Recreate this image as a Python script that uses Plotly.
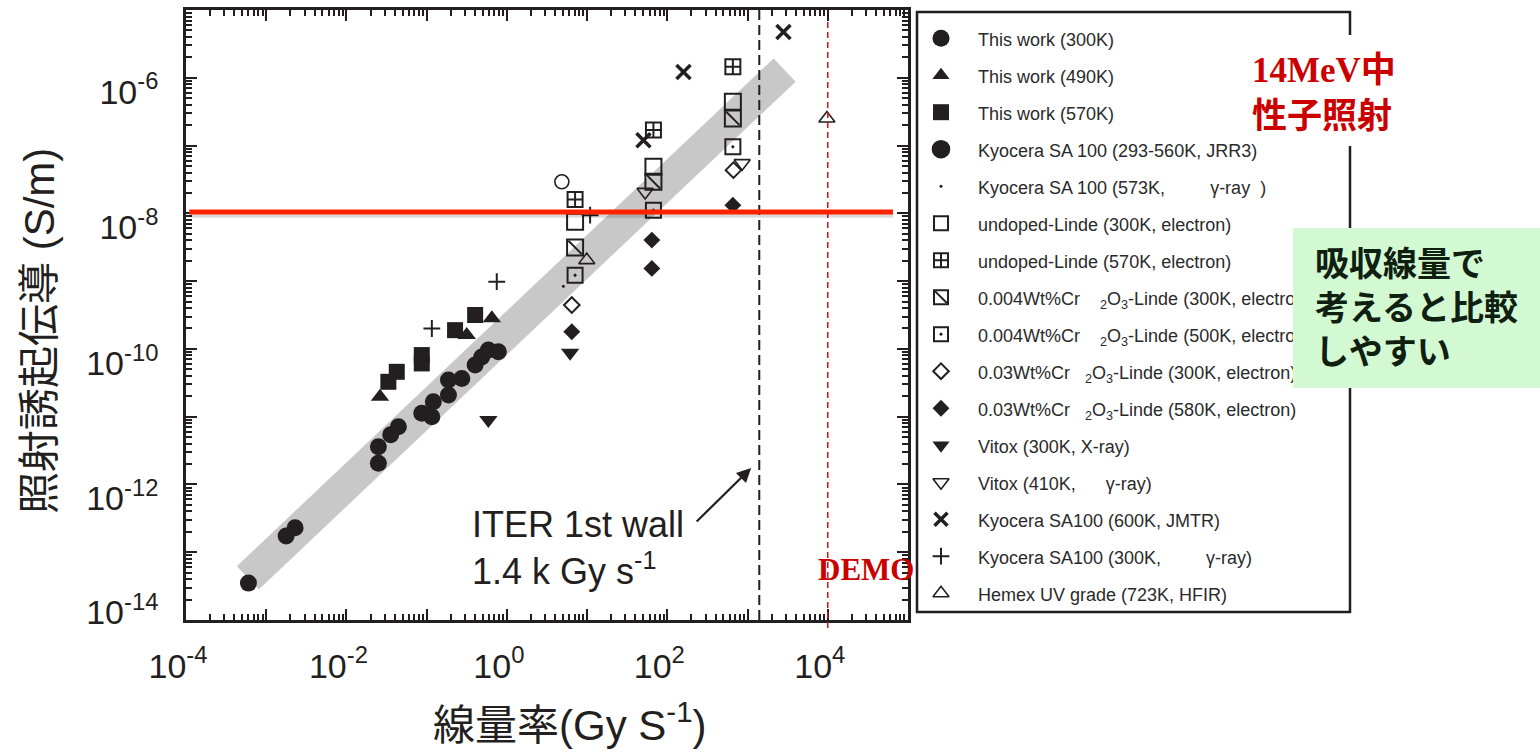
import plotly.graph_objects as go

W, H = 1540, 752
INK = "#231f20"

# ---------------- data: dose rate (Gy/s) vs radiation induced conductivity (S/m) ----------------
tw300_x = [6.0e-4, 1.77e-3, 2.29e-3, 0.025, 0.025, 0.0356, 0.0444, 0.0869, 0.116, 0.121,
           0.187, 0.187, 0.274, 0.402, 0.486, 0.588, 0.783]
tw300_y = [3.5e-14, 1.73e-13, 2.3e-13, 2.05e-12, 3.6e-12, 5.4e-12, 7.1e-12, 1.12e-11, 1.0e-11,
           1.66e-11, 2.08e-11, 3.47e-11, 3.67e-11, 5.8e-11, 7.6e-11, 9.6e-11, 9.1e-11]

tw490_x = [0.0262, 0.316, 0.649]
tw490_y = [1.96e-11, 1.6e-10, 2.82e-10]

tw570_x = [0.0333, 0.0424, 0.0869, 0.0869, 0.226, 0.402]
tw570_y = [3.27e-11, 4.59e-11, 8.1e-11, 6.1e-11, 1.89e-10, 3.16e-10]

jrr3_x = [4.84]
jrr3_y = [2.92e-8]

kyo573_x = [5.06]
kyo573_y = [8.4e-10]

lin300_x = [7.08, 67.1, 656]
lin300_y = [7.5e-9, 4.85e-8, 4.42e-7]

lin570_x = [7.08, 67.1, 656]
lin570_y = [1.6e-8, 1.69e-7, 1.45e-6]

cr004_300_x = [7.08, 67.1, 656]
cr004_300_y = [3.14e-9, 2.92e-8, 2.51e-7]

cr004_500_x = [7.08, 67.1, 656]
cr004_500_y = [1.22e-9, 1.11e-8, 9.57e-8]

cr03_300_x = [6.44, 667]
cr03_300_y = [4.43e-10, 4.34e-8]

cr03_580_x = [6.44, 64.1, 64.1, 656]
cr03_580_y = [1.79e-10, 4.03e-9, 1.54e-9, 1.32e-8]

vitox300_x = [0.588, 6.14]
vitox300_y = [8.9e-12, 8.75e-11]

vitox410_x = [52.9, 857]
vitox410_y = [2.07e-8, 5.5e-8]

jmtr_x = [50.4, 159, 2804]
jmtr_y = [1.2e-7, 1.22e-6, 4.75e-6]

kyo300g_x = [0.116, 0.748, 10.9]
kyo300g_y = [2.0e-10, 9.8e-10, 9.4e-9]

hemex_x = [9.9, 9750]
hemex_y = [2.04e-9, 2.51e-7]

# trend band through the data
band_x = [5.9e-4, 2.9e3]
band_y = [4.2e-14, 1.3e-6]

# reference levels
ric_limit = 1.05e-8        # conductivity limit (red line)
iter_dose_rate = 1.4e3     # ITER first wall, 1.4 kGy/s
demo_dose_rate = 1.0e4     # DEMO

x_tick_exp = list(range(-4, 6))
y_tick_exp = list(range(-14, -4))

legend_labels = [
    "This work (300K)",
    "This work (490K)",
    "This work (570K)",
    "Kyocera SA 100 (293-560K, JRR3)",
    "Kyocera SA 100 (573K,         γ-ray  )",
    "undoped-Linde (300K, electron)",
    "undoped-Linde (570K, electron)",
    "0.004Wt%Cr    <sub>2</sub>O<sub>3</sub>-Linde (300K, electron)",
    "0.004Wt%Cr    <sub>2</sub>O<sub>3</sub>-Linde (500K, electron)",
    "0.03Wt%Cr   <sub>2</sub>O<sub>3</sub>-Linde (300K, electron)",
    "0.03Wt%Cr   <sub>2</sub>O<sub>3</sub>-Linde (580K, electron)",
    "Vitox (300K, X-ray)",
    "Vitox (410K,      γ-ray)",
    "Kyocera SA100 (600K, JMTR)",
    "Kyocera SA100 (300K,         γ-ray)",
    "Hemex UV grade (723K, HFIR)",
]

# ---------------- marker styles ----------------
# (symbol, plot size, legend symbol, legend size, stroke width)
styles = [
    ("circle", 17, "circle", 17, 0),
    ("triangle-up", 16, "triangle-up", 15, 0),
    ("square", 16, "square", 16, 0),
    ("circle-open", 14, "circle", 17, 1.6),
    ("circle", 3, "circle", 3, 0),
    ("square-open", 16, "square-open", 14, 2),
    ("square-cross-open", 15, "square-cross-open", 14, 2),
    ("square-open", 16, "square-open", 14, 2),
    ("square-open-dot", 15, "square-open-dot", 14, 2),
    ("diamond-open", 12, "diamond-open", 12, 2),
    ("diamond", 13, "diamond", 13, 0),
    ("triangle-down", 16, "triangle-down", 15, 0),
    ("triangle-down-open", 14, "triangle-down-open", 14, 1.6),
    ("x-thin", 14, "x-thin", 13, 3.5),
    ("cross-thin", 12, "cross-thin", 12, 2),
    ("triangle-up-open", 14, "triangle-up-open", 14, 1.6),
]

series_xy = [
    (tw300_x, tw300_y), (tw490_x, tw490_y), (tw570_x, tw570_y), (jrr3_x, jrr3_y),
    (kyo573_x, kyo573_y), (lin300_x, lin300_y), (lin570_x, lin570_y),
    (cr004_300_x, cr004_300_y), (cr004_500_x, cr004_500_y), (cr03_300_x, cr03_300_y),
    (cr03_580_x, cr03_580_y), (vitox300_x, vitox300_y), (vitox410_x, vitox410_y),
    (jmtr_x, jmtr_y), (kyo300g_x, kyo300g_y), (hemex_x, hemex_y),
]

DIAG_INDEX = 7  # square with a single diagonal

fig = go.Figure()

# grey trend band
fig.add_trace(go.Scatter(x=band_x, y=band_y, mode="lines",
                         line=dict(color="#c8c8c8", width=32), hoverinfo="skip"))

for i, (sym, size, _, _, lw) in enumerate(styles):
    xs, ys = series_xy[i]
    fig.add_trace(go.Scatter(
        x=xs, y=ys, mode="markers", name=legend_labels[i],
        marker=dict(symbol=sym, size=size, color=INK, opacity=1,
                    line=dict(color=INK, width=lw)),
    ))
    if i == DIAG_INDEX:
        fig.add_trace(go.Scatter(
            x=xs, y=ys, mode="markers", hoverinfo="skip",
            marker=dict(symbol="line-nw", size=size / 1.2, color=INK, opacity=1,
                        line=dict(color=INK, width=2)),
        ))

# ---------------- legend panel (own axes in pixel-like units) ----------------
row0, row_step = 29.7, 37.0
rows = [row0 + row_step * k for k in range(len(legend_labels))]
mark_rows = [r - 3.5 for r in rows]

for k, (_, _, lsym, lsize, lw) in enumerate(styles):
    fig.add_trace(go.Scatter(
        x=[24], y=[mark_rows[k]], mode="markers", xaxis="x2", yaxis="y2",
        hoverinfo="skip",
        marker=dict(symbol=lsym, size=lsize, color=INK, opacity=1,
                    line=dict(color=INK, width=lw)),
    ))
fig.add_trace(go.Scatter(
    x=[24], y=[mark_rows[DIAG_INDEX]], mode="markers", xaxis="x2", yaxis="y2",
    hoverinfo="skip",
    marker=dict(symbol="line-nw", size=styles[DIAG_INDEX][3] / 1.2, color=INK, opacity=1,
                line=dict(color=INK, width=2)),
))
fig.add_trace(go.Scatter(
    x=[61] * len(rows), y=rows, mode="text", text=legend_labels,
    textposition="middle right", xaxis="x2", yaxis="y2", hoverinfo="skip",
    textfont=dict(family="Liberation Sans, Arial", size=18, color="#2a2a2a"),
))

# ---------------- axes ----------------
def sup_label(e):
    return f"10<sup>{e}</sup>"

def y_label(e):
    if e % 2:
        return ""
    # the bottom label sits a little higher, clear of the x labels
    return sup_label(e) + ("<br> " if e == y_tick_exp[0] else "")

x_minor = [k * 10.0 ** e for e in x_tick_exp[:-1] for k in range(2, 10)]
y_minor = [k * 10.0 ** e for e in y_tick_exp[:-1] for k in range(2, 10)]

tick_font = dict(family="Liberation Sans, Arial", size=34, color=INK)
common = dict(type="log", showline=True, mirror="ticks", linewidth=2.5, linecolor=INK,
              ticks="inside", ticklen=11, tickwidth=2, tickcolor=INK, tickmode="array",
              showgrid=False, zeroline=False, tickfont=tick_font, automargin=False)

fig.update_layout(
    width=W, height=H,
    margin=dict(l=0, r=0, t=0, b=0, autoexpand=False),
    paper_bgcolor="white", plot_bgcolor="white", showlegend=False,
    xaxis=dict(**common, range=[-4, 5], domain=[186 / W, 908 / W], anchor="y",
               tickvals=[10.0 ** e for e in x_tick_exp],
               ticktext=[sup_label(e) if e % 2 == 0 else "" for e in x_tick_exp],
               minor=dict(ticks="inside", ticklen=6, tickwidth=1.5, tickcolor=INK,
                          tickmode="array", tickvals=x_minor, showgrid=False),
               ticklabelstandoff=14, ticklabelshift=-8),
    yaxis=dict(**common, range=[-14, -5], domain=[1 - 620 / H, 1 - 10 / H], anchor="x",
               tickvals=[10.0 ** e for e in y_tick_exp],
               ticktext=[y_label(e) for e in y_tick_exp],
               minor=dict(ticks="inside", ticklen=6, tickwidth=1.5, tickcolor=INK,
                          tickmode="array", tickvals=y_minor, showgrid=False),
               ticklabelstandoff=18, ticklabelshift=14),
    xaxis2=dict(domain=[917 / W, 1350 / W], range=[0, 433], visible=False,
                anchor="y2", fixedrange=True),
    yaxis2=dict(domain=[1 - 612 / H, 1 - 12 / H], range=[600, 0], visible=False,
                anchor="x2", fixedrange=True),
)

# ---------------- reference lines and boxes ----------------
shapes = [
    # legend frame
    dict(type="rect", xref="paper", yref="paper", x0=917 / W, x1=1350 / W,
         y0=1 - 612 / H, y1=1 - 12 / H, line=dict(color=INK, width=2.5),
         fillcolor="rgba(0,0,0,0)", layer="above"),
    # ITER first wall dose rate
    dict(type="line", xref="x", yref="y domain", x0=iter_dose_rate, x1=iter_dose_rate,
         y0=0, y1=1, line=dict(color=INK, width=2, dash="10px,5px"), layer="above"),
    # DEMO dose rate
    dict(type="line", xref="x", yref="y domain", x0=demo_dose_rate, x1=demo_dose_rate,
         y0=-0.013, y1=0.984, line=dict(color="#dd1111", width=1.5, dash="6px,4px"),
         layer="above"),
    # soft shadow under the limit line
    dict(type="line", xref="x", yref="y", x0=1.1e-4, x1=6.5e4,
         y0=ric_limit * 10 ** -0.05, y1=ric_limit * 10 ** -0.05,
         line=dict(color="rgba(0,0,0,0.14)", width=5), layer="above"),
    # conductivity limit
    dict(type="line", xref="x", yref="y", x0=1.1e-4, x1=6.5e4, y0=ric_limit, y1=ric_limit,
         line=dict(color="#ff2200", width=5), layer="above"),
    # white patch behind the 14 MeV note (interrupts the legend frame)
    dict(type="rect", xref="paper", yref="paper", x0=1300 / W, x1=1405 / W,
         y0=1 - 146 / H, y1=1 - 35 / H, line=dict(width=0), fillcolor="white",
         layer="above"),
    # green note box
    dict(type="rect", xref="paper", yref="paper", x0=1293 / W, x1=1.0,
         y0=1 - 388 / H, y1=1 - 228 / H, line=dict(width=0), fillcolor="#d3f9d3",
         layer="above"),
]
fig.update_layout(shapes=shapes)

cjk = "Liberation Sans, Noto Sans CJK JP"
annotations = [
    dict(text="線量率(Gy S<sup>-1</sup>)", xref="paper", yref="paper",
         x=569 / W, y=1 - 722 / H, xanchor="center", yanchor="middle", showarrow=False,
         font=dict(family=cjk, size=42, color=INK)),
    dict(text="照射誘起伝導 (S/m)", xref="paper", yref="paper", textangle=-90,
         x=39 / W, y=1 - 331 / H, xanchor="center", yanchor="middle", showarrow=False,
         font=dict(family=cjk, size=42, color=INK)),
    dict(text="ITER 1st wall<br>1.4 k Gy s<sup>-1</sup>", xref="paper", yref="paper",
         x=470 / W, y=1 - 548 / H, xanchor="left", yanchor="middle", align="left",
         showarrow=False, font=dict(family="Liberation Sans, Arial", size=36, color=INK)),
    dict(text="", xref="x", yref="y", x=3.045, y=-11.757, ax=-56, ay=55,
         showarrow=True, arrowhead=2, arrowsize=1.3, arrowwidth=2.2, arrowcolor=INK),
    dict(text="<b>DEMO</b>", xref="paper", yref="paper", x=866 / W, y=1 - 569 / H,
         xanchor="center", yanchor="middle", showarrow=False,
         font=dict(family="Liberation Serif, Times New Roman", size=31, color="#cc0000")),
    dict(text="<b>14MeV中<br>性子照射</b>", xref="paper", yref="paper",
         x=1250 / W, y=1 - 93 / H, xanchor="left", yanchor="middle", align="left",
         showarrow=False,
         font=dict(family="Liberation Serif, Noto Sans CJK JP", size=35, color="#cc0000")),
    dict(text="<b>吸収線量で<br>考えると比較<br>しやすい</b>", xref="paper", yref="paper",
         x=1313 / W, y=1 - 305 / H, xanchor="left", yanchor="middle", align="left",
         showarrow=False,
         font=dict(family="Noto Sans CJK JP", size=34, color="#102010")),
]
fig.update_layout(annotations=annotations)

fig.write_html("out.html")
